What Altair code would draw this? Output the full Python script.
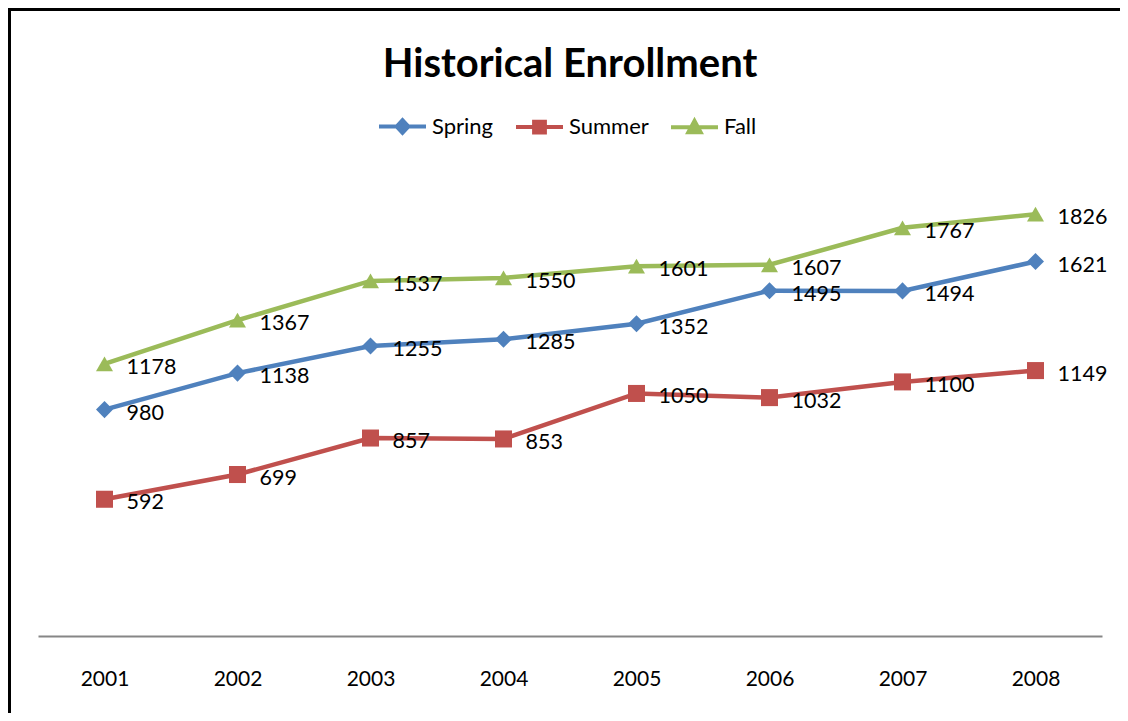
import altair as alt
import pandas as pd

years = ["2001", "2002", "2003", "2004", "2005", "2006", "2007", "2008"]
seasons = ["Spring", "Summer", "Fall"]
spring = [980, 1138, 1255, 1285, 1352, 1495, 1494, 1621]
summer = [592, 699, 857, 853, 1050, 1032, 1100, 1149]
fall = [1178, 1367, 1537, 1550, 1601, 1607, 1767, 1826]
colors = ["#4F81BD", "#C0504D", "#9BBB59"]
shapes = ["diamond", "square", "triangle-up"]
legend_paths = [
    "M-1,0H1M-0.25,0L0,-0.27L0.25,0L0,0.27Z",
    "M-1,0H1M-0.23,-0.23H0.23V0.23H-0.23Z",
    "M-1,0H1M0,-0.27L0.26,0.21H-0.26Z",
]

rows = []
for s, vals in zip(seasons, [spring, summer, fall]):
    for y, v in zip(years, vals):
        rows.append({"year": y, "season": s, "value": v})
df = pd.DataFrame(rows)

FONT = "Lato"


def make_legend():
    return alt.Legend(
        orient="none",
        legendX=339,
        legendY=-73,
        direction="horizontal",
        title=None,
        labelFont=FONT,
        labelFontSize=22,
        labelColor="black",
        symbolSize=2209,
        symbolStrokeWidth=4,
        symbolOpacity=1,
        labelOffset=4,
        columnPadding=14,
    )


x_enc = alt.X(
    "year:O",
    sort=years,
    scale=alt.Scale(type="point", padding=0.5),
    axis=alt.Axis(
        title=None,
        labelAngle=0,
        ticks=False,
        labelFont=FONT,
        labelFontSize=21,
        labelColor="black",
        labelPadding=32,
        domainColor="#868686",
        domainWidth=2,
        grid=False,
    ),
)
y_enc = alt.Y("value:Q", scale=alt.Scale(domain=[0, 2000]), axis=None)

base = alt.Chart(df).encode(x=x_enc, y=y_enc)

line_layers = []
point_layers = []
for s, c, shp in zip(seasons, colors, shapes):
    sub = base.transform_filter(alt.datum.season == s)
    line_layers.append(sub.mark_line(color=c, strokeWidth=4.5))
    point_layers.append(
        sub.mark_point(filled=True, opacity=1, size=290, shape=shp, color=c)
    )

labels = base.mark_text(
    align="left", baseline="middle", dx=22, dy=4, font=FONT, fontSize=21.5, color="black"
).encode(text="value:Q")

legend_layer = base.mark_point(filled=True, size=0).encode(
    fill=alt.Fill("season:N", scale=alt.Scale(domain=seasons, range=colors), legend=make_legend()),
    stroke=alt.Stroke("season:N", scale=alt.Scale(domain=seasons, range=colors), legend=make_legend()),
    shape=alt.Shape("season:N", scale=alt.Scale(domain=seasons, range=legend_paths), legend=make_legend()),
)

frame_df = pd.DataFrame({"k": [0]})
left_border = alt.Chart(frame_df).mark_rule(color="black", strokeWidth=3).encode(
    x=alt.value(-28.5), y=alt.value(-166), y2=alt.value(700)
)
top_border = alt.Chart(frame_df).mark_rule(color="black", strokeWidth=3).encode(
    x=alt.value(-30), x2=alt.value(1200), y=alt.value(-164.5)
)

chart = (
    alt.layer(*line_layers, *point_layers, labels, legend_layer, left_border, top_border)
    .properties(
        width=1064,
        height=462,
        background="white",
        autosize=alt.AutoSizeParams(type="none"),
        padding={"left": 30, "top": 166, "right": 18, "bottom": 77},
        title=alt.TitleParams(
            "Historical Enrollment",
            font=FONT,
            fontSize=40,
            fontWeight="bold",
            color="black",
            anchor="middle",
            offset=0,
            dy=78,
        ),
    )
    .configure_view(strokeWidth=0)
)

chart.save("out.html", embed_options={"renderer": "svg", "actions": False})
